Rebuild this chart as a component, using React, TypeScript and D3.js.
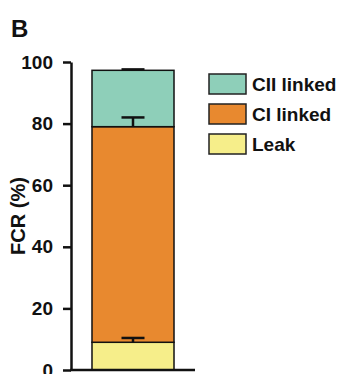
import React, { useEffect, useRef } from "react";
import * as d3 from "d3";

const series = ["Leak", "CI linked", "CII linked"];
const values = [9, 70, 18.3];
const errors = [1.4, 3, 0.3];
const colors = ["#f6ee8a", "#e8892f", "#8ecfb9"];
const yTicks = [0, 20, 40, 60, 80, 100];

const App = () => {
  const svgRef = useRef<SVGSVGElement>(null);

  useEffect(() => {
    const svg = d3.select(svgRef.current);
    svg.selectAll("*").remove();
    const font = "'Liberation Sans', Arial, sans-serif";

    const y = d3.scaleLinear().domain([0, 100]).range([370, 62]);
    const x = d3.scaleBand().domain(["FCR"]).range([71, 195]).paddingInner(0).paddingOuter(0.256);

    // stacked values
    let acc = 0;
    const stacked = values.map((v, i) => {
      const d = { key: series[i], y0: acc, y1: acc + v, err: errors[i], color: colors[i] };
      acc += v;
      return d;
    });

    const bx = x("FCR")!;
    const bw = x.bandwidth();
    const cx = bx + bw / 2;

    svg
      .append("g")
      .selectAll("rect")
      .data(stacked)
      .join("rect")
      .attr("x", bx)
      .attr("y", (d) => y(d.y1))
      .attr("width", bw)
      .attr("height", (d) => y(d.y0) - y(d.y1))
      .attr("fill", (d) => d.color)
      .attr("stroke", "#111")
      .attr("stroke-width", 1.5);

    // error bars (upper only)
    const eb = svg.append("g").attr("stroke", "#111").attr("stroke-width", 2.5);
    stacked.forEach((d) => {
      eb.append("line").attr("x1", cx).attr("x2", cx).attr("y1", y(d.y1)).attr("y2", y(d.y1 + d.err));
      eb.append("line").attr("x1", cx - 11.5).attr("x2", cx + 11.5).attr("y1", y(d.y1 + d.err)).attr("y2", y(d.y1 + d.err));
    });

    // y axis
    const yAxis = svg
      .append("g")
      .attr("transform", "translate(71,0)")
      .call(d3.axisLeft(y).tickValues(yTicks).tickSize(8).tickSizeOuter(0).tickPadding(10));
    yAxis.attr("font-size", null).attr("font-family", null);
    yAxis.select(".domain").attr("stroke", "#111").attr("stroke-width", 2.5);
    yAxis.selectAll(".tick line").attr("stroke", "#111").attr("stroke-width", 2.5);
    yAxis
      .selectAll(".tick text")
      .attr("fill", "#111")
      .style("font-family", font)
      .style("font-weight", "bold")
      .style("font-size", "19px");

    // x axis line
    svg
      .append("line")
      .attr("x1", 70)
      .attr("x2", 195)
      .attr("y1", 370)
      .attr("y2", 370)
      .attr("stroke", "#111")
      .attr("stroke-width", 2.5);

    // y label
    svg
      .append("text")
      .attr("transform", `translate(25,${y(50)}) rotate(-90)`)
      .attr("text-anchor", "middle")
      .style("font-family", font)
      .style("font-weight", "bold")
      .style("font-size", "20px")
      .attr("fill", "#111")
      .text("FCR (%)");

    // panel letter
    svg
      .append("text")
      .attr("x", 11)
      .attr("y", 37)
      .style("font-family", font)
      .style("font-weight", "bold")
      .style("font-size", "24px")
      .attr("fill", "#111")
      .text("B");

    // legend
    const legend = svg.append("g").attr("transform", "translate(209,74)");
    const items = stacked.slice().reverse();
    const li = legend
      .selectAll("g")
      .data(items)
      .join("g")
      .attr("transform", (_, i) => `translate(0,${i * 30})`);
    li.append("rect")
      .attr("width", 37)
      .attr("height", 20)
      .attr("fill", (d) => d.color)
      .attr("stroke", "#222")
      .attr("stroke-width", 1.5);
    li.append("text")
      .attr("x", 43)
      .attr("y", 17)
      .style("font-family", font)
      .style("font-weight", "bold")
      .style("font-size", "19px")
      .attr("fill", "#111")
      .text((d) => d.key);
  }, []);

  return (
    <svg
      ref={svgRef}
      width={348}
      height={374}
      style={{ position: "absolute", left: 0, top: 0, background: "#fff" }}
    ></svg>
  );
};

export default App;
